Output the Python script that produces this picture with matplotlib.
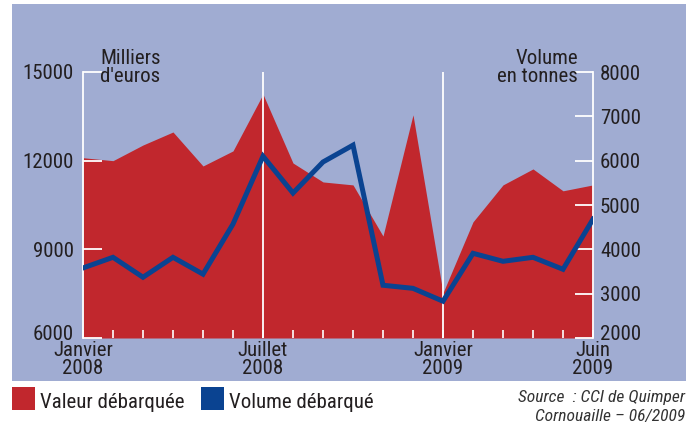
import matplotlib
matplotlib.use("Agg")
import matplotlib.pyplot as plt
from matplotlib.patches import Rectangle
from matplotlib.transforms import ScaledTranslation
import numpy as np

plt.rcParams['font.family'] = ['Roboto Condensed', 'Liberation Sans Narrow', 'Open Sans', 'DejaVu Sans']

months = list(range(18))
valeur = [12100, 12000, 12530, 12970, 11820, 12330, 14250, 11920, 11280, 11180,
          9450, 13550, 7530, 9930, 11180, 11720, 10980, 11180]
volume = [3580, 3820, 3370, 3820, 3440, 4570, 6100, 5270, 5970, 6350,
          3190, 3120, 2830, 3910, 3730, 3820, 3550, 4680]
left_ticks = [6000, 9000, 12000, 15000]
right_ticks = [2000, 3000, 4000, 5000, 6000, 7000, 8000]
x_label_pos = [0, 6, 12, 17]
x_labels = ["Janvier\n2008", "Juillet\n2008", "Janvier\n2009", "Juin\n2009"]

PANEL = "#a0acd2"
RED = "#c1272d"
BLUE = "#0a4391"
TXT = "#231f20"
FS = 15

W, H = 698, 423
fig = plt.figure(figsize=(W/100, H/100), dpi=100)
fig.patch.set_facecolor("white")
fig.patches.append(Rectangle((12/W, 1-381/H), (686-12)/W, (381-4)/H,
                             transform=fig.transFigure, facecolor=PANEL,
                             edgecolor="none", zorder=-5))

ax1 = fig.add_axes([83/W, 1-338/H, (593-83)/W, (338-72)/H])
ax1.set_facecolor("none")
ax1.fill_between(months, valeur, 6000, color=RED, linewidth=0, zorder=1)
ax1.set_xlim(0, 17)
ax1.set_ylim(6000, 15000)
ax1.set_yticks(left_ticks)
ax1.set_yticklabels([str(t) for t in left_ticks], fontsize=FS, color=TXT)
for xv in (6, 12):
    ax1.axvline(xv, color="white", linewidth=1.3, zorder=2)
ax1.set_xticks(months)
ax1.set_xticklabels([])
ax1.tick_params(axis='x', direction='in', length=6, width=1.2, color='white')
ax1.tick_params(axis='y', direction='in', length=14, width=1.3, color='white', pad=6.5)
for s in ("top", "bottom", "right"):
    ax1.spines[s].set_visible(False)
ax1.spines["left"].set_color("white")
ax1.spines["left"].set_linewidth(1.3)

for xp, lab in zip(x_label_pos, x_labels):
    ax1.text(xp, 5900, lab, ha="center", va="top", fontsize=FS, color=TXT,
             linespacing=0.92)

ax2 = ax1.twinx()
ax2.set_facecolor("none")
ax2.plot(months, volume, color=BLUE, linewidth=3.6, solid_joinstyle="miter", zorder=3)
ax2.set_ylim(2000, 8000)
ax2.set_xlim(0, 17)
ax2.set_yticks(right_ticks)
ax2.set_yticklabels([str(t) for t in right_ticks], fontsize=FS, color=TXT)
ax2.tick_params(axis='y', direction='in', length=13, width=1.3, color='white', pad=5)
for s in ("top", "bottom", "left"):
    ax2.spines[s].set_visible(False)
ax2.spines["right"].set_color("white")
ax2.spines["right"].set_linewidth(1.3)

# lift the lowest tick labels a little, as in the reference
up = ScaledTranslation(0, 6/100, fig.dpi_scale_trans)
fig.canvas.draw()
for lbl in (ax1.get_yticklabels()[0], ax2.get_yticklabels()[0]):
    lbl.set_transform(lbl.get_transform() + up)

fig.text(100/W, 1-49/H, "Milliers\nd'euros", ha="left", va="top", fontsize=FS,
         color=TXT, linespacing=0.92)
fig.text(578/W, 1-49/H, "Volume\nen tonnes", ha="right", va="top", fontsize=FS,
         color=TXT, linespacing=0.92)

# legend
fig.patches.append(Rectangle((12/W, 1-410/H), 23/W, 23/H, transform=fig.transFigure,
                             facecolor=RED, edgecolor="none"))
fig.text(40/W, 1-402/H, "Valeur débarquée", ha="left", va="center", fontsize=FS, color=TXT)
fig.patches.append(Rectangle((201/W, 1-410/H), 23/W, 23/H, transform=fig.transFigure,
                             facecolor=BLUE, edgecolor="none"))
fig.text(229/W, 1-402/H, "Volume débarqué", ha="left", va="center", fontsize=FS, color=TXT)

fig.text(685/W, 1-397/H, "Source  : CCI de Quimper", ha="right", va="center",
         fontsize=12.6, style="italic", color="#333333")
fig.text(685/W, 1-416/H, "Cornouaille – 06/2009", ha="right", va="center",
         fontsize=12.6, style="italic", color="#333333")

fig.savefig("out.png", dpi=100)
